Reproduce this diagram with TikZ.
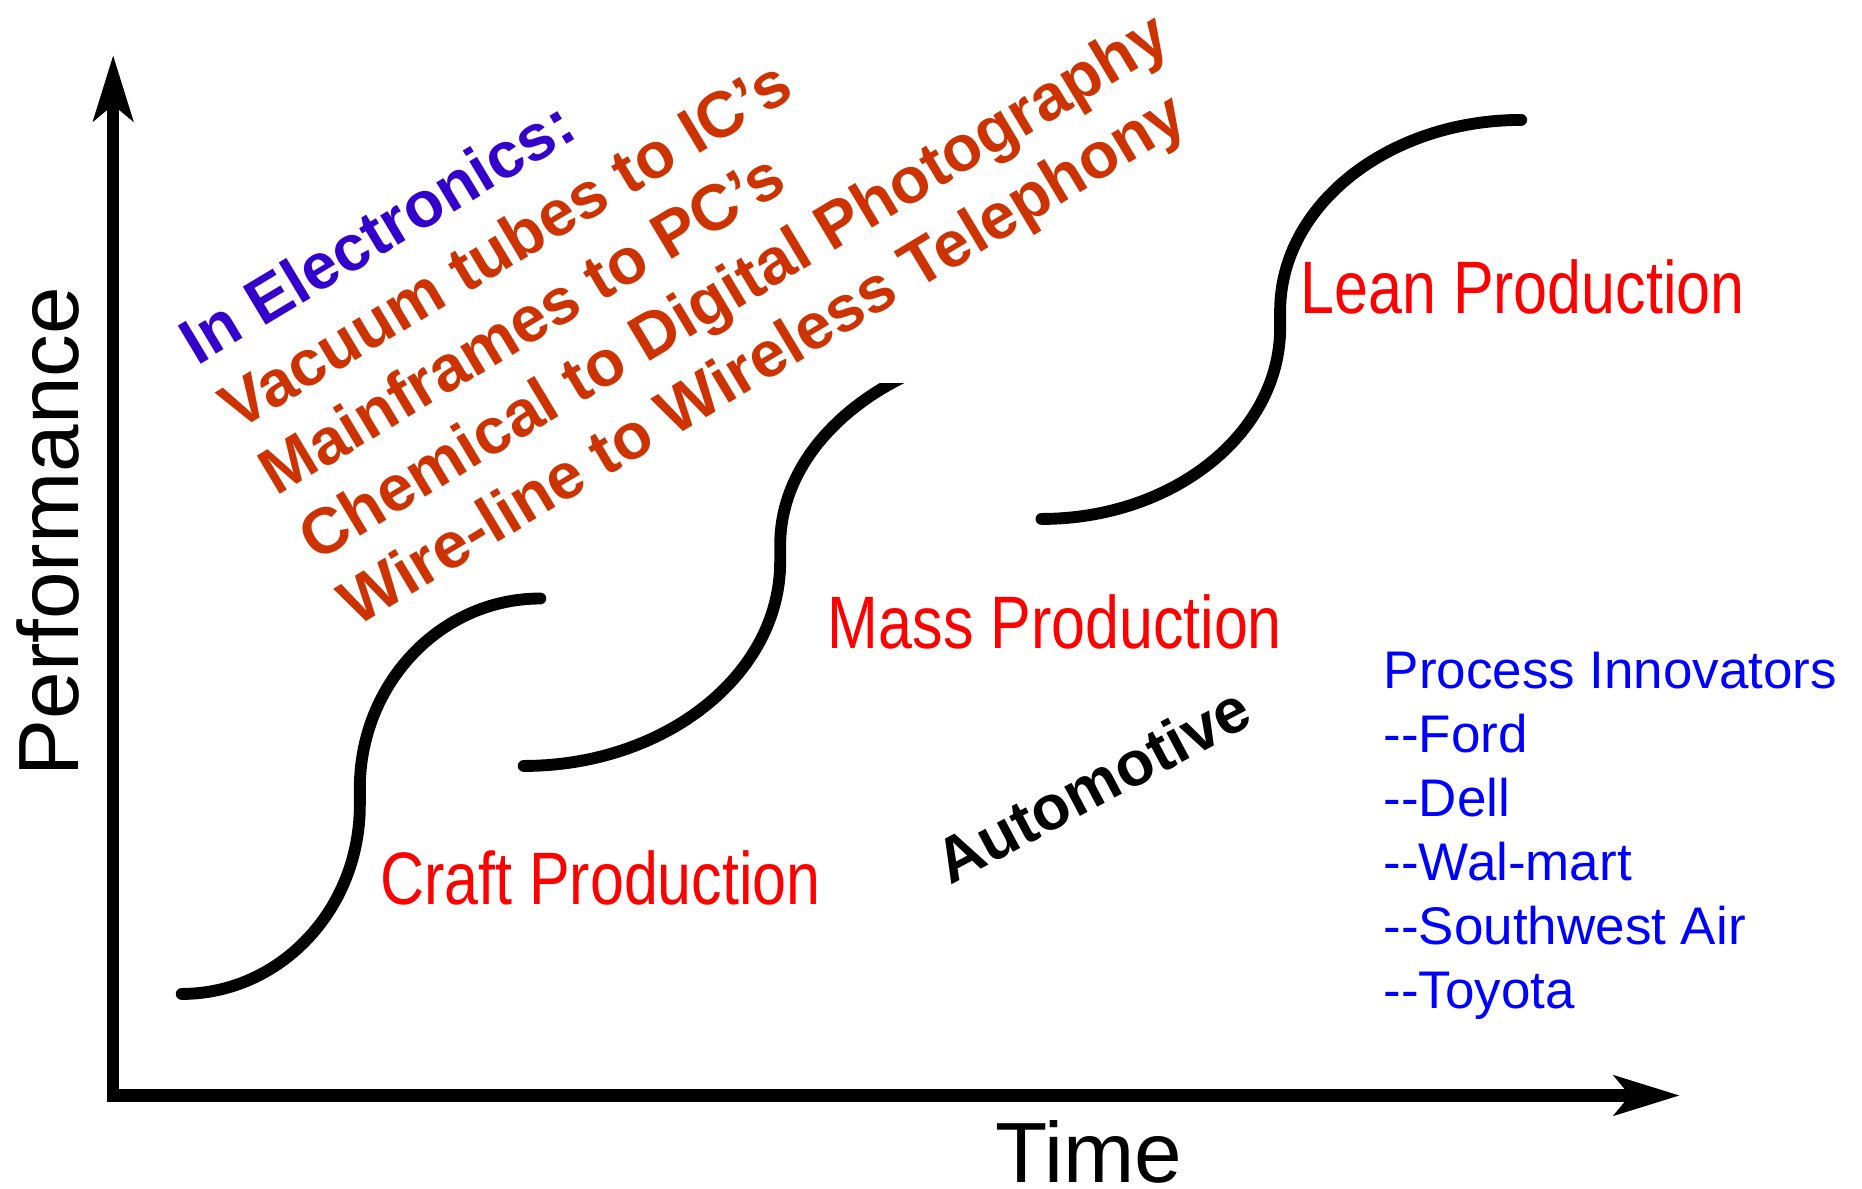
\documentclass[tikz,border=0pt]{standalone}
\usepackage{fontspec}
\setmainfont{Liberation Sans}
\newfontfamily\narrowfont[FakeStretch=0.82]{Liberation Sans}
\usetikzlibrary{arrows.meta}
\definecolor{elecblue}{RGB}{51,0,204}
\definecolor{elecorange}{RGB}{204,51,0}
\definecolor{prodred}{RGB}{255,0,0}
\definecolor{innoblue}{RGB}{0,0,255}
\begin{document}
\begin{tikzpicture}[x=1pt,y=-1pt,
  curve/.style={line width=10pt, line cap=round},
  axis/.style={line width=10.5pt, line join=miter},
  axlabel/.style={inner sep=0pt, font=\fontsize{72}{86}\selectfont},
  elec/.style={anchor=base west, inner sep=0pt, rotate=31, text=elecorange, font=\fontsize{54.5}{65}\selectfont\bfseries},
  prod/.style={anchor=base west, inner sep=0pt, text=prodred, font=\narrowfont\fontsize{62.6}{75}\selectfont},
  inno/.style={anchor=base west, inner sep=0pt, text=innoblue, font=\fontsize{44.6}{54}\selectfont},
]
\useasboundingbox (0,0) rectangle (1568,1001);

% axes
\coordinate (ytip) at (95.3,46.3);
\coordinate (origin) at (95.3,922.5);
\coordinate (xtip) at (1414.7,922.5);
\draw[axis, {Stealth[length=55pt,width=33pt,inset=13pt]}-{Stealth[length=55pt,width=33pt,inset=13pt]}] (ytip) -- (origin) -- (xtip);

\node[axlabel, rotate=90, anchor=base west] (perf) at (66,654) {Performance};
\node[axlabel, anchor=base] (time) at (917,996) {Time};

% S-curves
\coordinate (c1s) at (153,837);
\draw[curve] (c1s) arc[start angle=90, end angle=0, x radius=150, y radius=159]
  -- ++(0,-14) arc[start angle=180, end angle=270, x radius=152, y radius=160] coordinate (c1e);

\begin{scope}
\clip (0,322.6) rectangle (1568,1001);
\coordinate (c2s) at (441,645);
\draw[curve] (c2s) arc[start angle=90, end angle=0, x radius=216, y radius=172]
  -- ++(0,-14) arc[start angle=180, end angle=270, x radius=240, y radius=172] coordinate (c2e);
\end{scope}

\coordinate (c3s) at (877,437);
\draw[curve] (c3s) arc[start angle=90, end angle=0, x radius=201, y radius=161]
  -- ++(0,-14) arc[start angle=180, end angle=270, x radius=203, y radius=161] coordinate (c3e);

% production labels
\node[prod] (craft) at (320,762) {Craft Production};
\node[prod] (mass) at (697,546) {Mass Production};
\node[prod] (lean) at (1095,263.7) {Lean Production};

% electronics
\node[elec, text=elecblue] (el0) at (166,308.5) {In Electronics:};
\node[elec] (el1) at (199.5,363.5) {Vacuum tubes to IC’s};
\node[elec] (el2) at (233,418.5) {Mainframes to PC’s};
\node[elec] (el3) at (266.5,473.5) {Chemical to Digital Photography};
\node[elec] (el4) at (300,528.5) {Wire-line to Wireless Telephony};

\node[anchor=base west, inner sep=0pt, rotate=28, font=\fontsize{53}{64}\selectfont\bfseries] (auto) at (800,746) {Automotive};

% process innovators
\node[inno] (pi0) at (1165,579.5) {Process Innovators};
\node[inno] (pi1) at (1165,633.5) {-{}-Ford};
\node[inno] (pi2) at (1165,687.5) {-{}-Dell};
\node[inno] (pi3) at (1165,741.5) {-{}-Wal-mart};
\node[inno] (pi4) at (1165,795.5) {-{}-Southwest Air};
\node[inno] (pi5) at (1165,849.5) {-{}-Toyota};
\end{tikzpicture}
\end{document}
